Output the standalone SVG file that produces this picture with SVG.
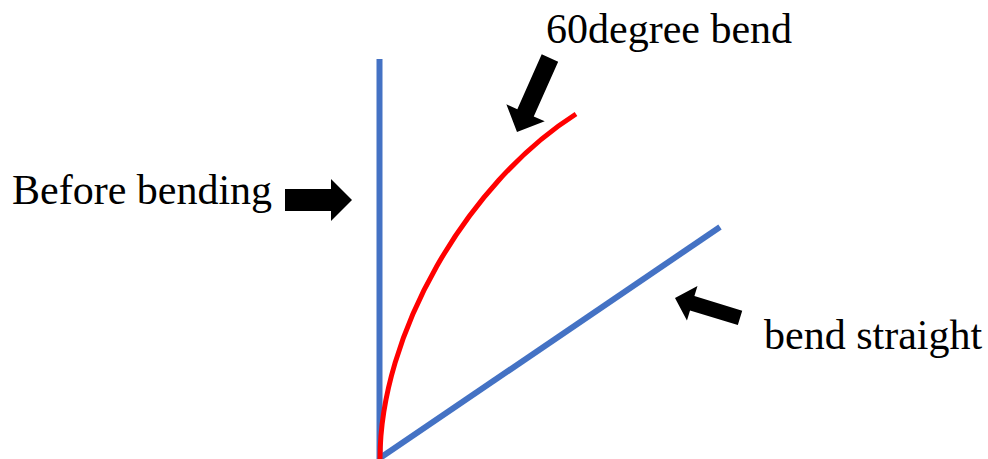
<svg xmlns="http://www.w3.org/2000/svg" width="988" height="459" viewBox="0 0 988 459">
<style>
.lbl{font-family:"Liberation Serif","Times New Roman",serif;font-size:42px;fill:#000}
.blue{stroke:#4472C4;stroke-width:6;fill:none}
.red{stroke:#FF0000;stroke-width:5;fill:none}
.arr{fill:#000}
</style>
<defs>
<path id="a1" d="M0 0 L-21 -21 L-21 -11 L-67 -11 L-67 11 L-21 11 L-21 21 Z"/>
</defs>
<rect width="988" height="459" fill="#fff"/>
<g id="connectors">
<line id="before" class="blue" x1="379.5" y1="59" x2="379.5" y2="459"/>
<line id="straight" class="blue" x1="380" y1="458" x2="720" y2="227"/>
<path id="bend60" class="red" d="M380 459 C380 335 466 184 576 114"/>
</g>
<g id="label-before">
<text class="lbl" x="12" y="204">Before bending</text>
<path class="arr" d="M0 0 L-21 -21 L-21 -11 L-67 -11 L-67 11 L-21 11 L-21 21 Z" transform="translate(352 200)"/>
</g>
<g id="label-60">
<text class="lbl" x="546" y="43">60degree bend</text>
<path class="arr" d="M0 0 L-21 -21 L-21 -9 L-81 -9 L-81 9 L-21 9 L-21 21 Z" transform="translate(517 132) rotate(114)"/>
</g>
<g id="label-straight">
<text class="lbl" x="764" y="349">bend straight</text>
<path class="arr" d="M0 0 L-18 -18 L-18 -7.5 L-68 -7.5 L-68 7.5 L-18 7.5 L-18 18 Z" transform="translate(675 298) rotate(197)"/>
</g>
</svg>
